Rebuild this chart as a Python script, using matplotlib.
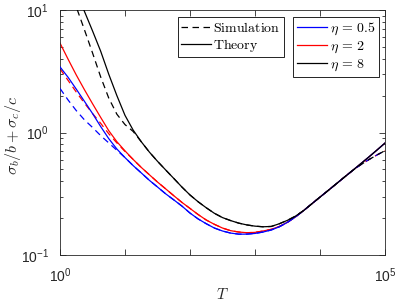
import math

import matplotlib
matplotlib.use("Agg")
import matplotlib.pyplot as plt  # noqa: E402
import numpy as np  # noqa: E402
from matplotlib.lines import Line2D  # noqa: E402
from matplotlib.ticker import FixedLocator, FuncFormatter, LogLocator, NullLocator  # noqa: E402

plt.rcParams["font.family"] = ["Liberation Sans", "DejaVu Sans"]
plt.rcParams["mathtext.fontset"] = "cm"

AX = "#262626"
DASH = (5.2, 3.6)

# sampling grid: 8 points per decade, T = 1 ... 1e5
T = np.logspace(0, 5, 41)

# theory (solid)
th_05 = [3.43, 2.82, 2.26, 1.80, 1.43, 1.12, 0.891, 0.733, 0.624, 0.537, 0.468,
         0.407, 0.359, 0.316, 0.282, 0.251, 0.220, 0.197, 0.180, 0.166, 0.157,
         0.151, 0.148, 0.148, 0.150, 0.154, 0.160, 0.170, 0.185, 0.205, 0.231,
         0.262, 0.297, 0.336, 0.381, 0.432, 0.489, 0.555, 0.630, 0.718, 0.820]
th_2 = [5.37, 3.96, 2.95, 2.24, 1.72, 1.33, 1.035, 0.841, 0.708, 0.603, 0.519,
        0.452, 0.394, 0.347, 0.305, 0.269, 0.240, 0.214, 0.193, 0.178, 0.166,
        0.158, 0.154, 0.152, 0.153, 0.157, 0.162, 0.171, 0.185, 0.205, 0.231,
        0.262, 0.297, 0.336, 0.381, 0.432, 0.489, 0.555, 0.630, 0.718, 0.820]
th_8 = [33.1, 21.9, 14.8, 9.77, 6.76, 4.62, 2.99, 2.00, 1.38, 1.047, 0.841,
        0.692, 0.582, 0.495, 0.422, 0.359, 0.309, 0.272, 0.243, 0.219, 0.202,
        0.191, 0.182, 0.176, 0.172, 0.170, 0.171, 0.180, 0.192, 0.208, 0.231,
        0.262, 0.297, 0.336, 0.381, 0.432, 0.489, 0.555, 0.630, 0.718, 0.820]

# simulation (dashed)
sim_05 = [2.29, 1.84, 1.51, 1.27, 1.10, 0.944, 0.822, 0.716, 0.624, 0.537, 0.468,
          0.407, 0.359, 0.316, 0.282, 0.251, 0.220, 0.197, 0.180, 0.166, 0.157,
          0.151, 0.148, 0.148, 0.150, 0.154, 0.160, 0.170, 0.185, 0.205, 0.231,
          0.262, 0.297, 0.336, 0.381, 0.432, 0.489, 0.545, 0.600, 0.655, 0.710]
sim_2 = [3.31, 2.66, 2.14, 1.74, 1.43, 1.19, 0.977, 0.822, 0.700, 0.603, 0.519,
         0.452, 0.394, 0.347, 0.305, 0.269, 0.240, 0.214, 0.193, 0.178, 0.166,
         0.158, 0.154, 0.152, 0.153, 0.157, 0.162, 0.171, 0.185, 0.205, 0.231,
         0.262, 0.297, 0.336, 0.381, 0.432, 0.489, 0.545, 0.600, 0.655, 0.710]
sim_8 = [25.1, 16.6, 10.6, 6.92, 4.47, 2.85, 1.91, 1.41, 1.16, 1.02, 0.841,
         0.692, 0.582, 0.495, 0.422, 0.359, 0.309, 0.272, 0.243, 0.219, 0.202,
         0.191, 0.182, 0.176, 0.172, 0.170, 0.171, 0.180, 0.192, 0.208, 0.231,
         0.262, 0.297, 0.336, 0.381, 0.432, 0.489, 0.545, 0.600, 0.655, 0.710]

ETAS = ["0.5", "2", "8"]
COLORS = ["#0000ff", "#ff0000", "#000000"]


def pow10(v, pos):
    return r"$\mathdefault{10^{%d}}$" % round(math.log10(v))


fig = plt.figure(figsize=(3.96, 3.02), dpi=100)
ax = fig.add_axes([60 / 396, 47 / 302, 325 / 396, 245 / 302])

series = [(th_05, sim_05), (th_2, sim_2), (th_8, sim_8)]
zord = [3, 2, 4]
for (th, sim), c, z in zip(series, COLORS, zord):
    ax.plot(T, sim, "--", color=c, lw=0.9, zorder=z, dashes=DASH)
    ax.plot(T, th, "-", color=c, lw=0.9, zorder=z)

ax.set_xscale("log")
ax.set_yscale("log")
ax.set_xlim(1, 1e5)
ax.set_ylim(0.1, 10)

ax.xaxis.set_major_locator(FixedLocator([1, 10, 100, 1e3, 1e4, 1e5]))
ax.xaxis.set_minor_locator(NullLocator())
ax.xaxis.set_major_formatter(FuncFormatter(
    lambda v, p: pow10(v, p) if v in (1, 1e5) else ""))
ax.yaxis.set_major_locator(FixedLocator([0.1, 1, 10]))
ax.yaxis.set_minor_locator(LogLocator(base=10, subs=range(2, 10)))
ax.yaxis.set_major_formatter(FuncFormatter(pow10))

ax.tick_params(which="both", direction="in", top=True, right=True,
               colors=AX, labelsize=10, width=0.6)
ax.tick_params(which="major", length=4, pad=8)
ax.tick_params(which="minor", length=2.5)
for sp in ax.spines.values():
    sp.set_color(AX)
    sp.set_linewidth(0.6)

ax.set_xlabel(r"$T$", fontsize=11, color=AX)
ax.xaxis.set_label_coords(0.5, -0.13)
ax.set_ylabel(r"$\sigma_b/b+\sigma_c/c$", fontsize=11.5, color=AX)
ax.yaxis.set_label_coords(-0.115, 0.49)

h1 = [Line2D([], [], color="k", ls="--", lw=0.9, dashes=DASH),
      Line2D([], [], color="k", ls="-", lw=0.9)]
leg1 = ax.legend(h1, [r"$\mathrm{Simulation}$", r"$\mathrm{Theory}$"],
                 loc="upper left", bbox_to_anchor=(0.363, 0.971),
                 fontsize=10, frameon=True, fancybox=False, edgecolor="k",
                 framealpha=1, handlelength=2.1, handletextpad=0.2,
                 labelspacing=0.15, borderpad=0.25, borderaxespad=0)
leg1.get_frame().set_linewidth(0.6)
ax.add_artist(leg1)

h2 = [Line2D([], [], color=c, lw=0.9) for c in COLORS]
leg2 = ax.legend(h2, [r"$\eta\,=\,%s$" % e for e in ETAS],
                 loc="upper right", bbox_to_anchor=(0.982, 0.971),
                 fontsize=10, frameon=True, fancybox=False, edgecolor="k",
                 framealpha=1, handlelength=2.2, handletextpad=0.2,
                 labelspacing=0.15, borderpad=0.25, borderaxespad=0)
leg2.get_frame().set_linewidth(0.6)

fig.savefig("out.png", dpi=100, facecolor="white")
